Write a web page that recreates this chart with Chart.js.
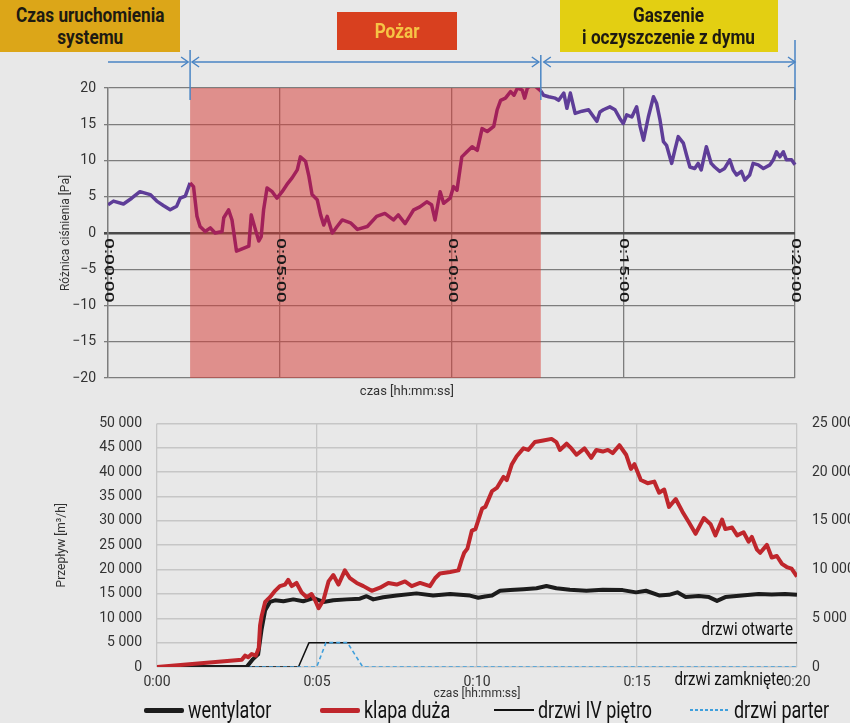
<!DOCTYPE html>
<html>
<head>
<meta charset="utf-8">
<script src="https://cdn.jsdelivr.net/npm/chart.js@4/dist/chart.umd.min.js"></script>
<style>
  body { margin: 0; background: #e8e8e8; width: 850px; height: 723px; position: relative; overflow: hidden;
         font-family: Roboto, 'Liberation Sans', sans-serif; }
  canvas { position: absolute; left: 0; }
  #top { top: 0; }
  #bottom { top: 400px; }
  .box { position: absolute; display: flex; align-items: center; justify-content: center; text-align: center;
         font-weight: bold; font-size: 20px; line-height: 22px; color: #1d1a12; z-index: 2; }
  .box span { display: inline-block; transform: scaleX(0.86); white-space: nowrap; }
  #legend { position: absolute; top: 699px; left: 0; width: 850px; height: 22px; }
  .item { position: absolute; top: 0; height: 22px; display: flex; align-items: center; font-size: 23px; color: #111; white-space: nowrap; }
  .item .txt { display: inline-block; transform: scaleX(0.78); transform-origin: left center; }
  .sw { width: 40px; margin-right: 4px; }
</style>
</head>
<body>
<div class="box" style="left:0;top:0;width:180px;height:52px;background:#dca618;"><span>Czas uruchomienia<br>systemu</span></div>
<div class="box" style="left:337px;top:12px;width:120px;height:38px;background:#d8401f;color:#f6c445;"><span>Pożar</span></div>
<div class="box" style="left:560px;top:0;width:218px;height:52px;background:#e3cf12;"><span>Gaszenie<br>i oczyszczenie z dymu</span></div>

<canvas id="top" width="850" height="400"></canvas>
<canvas id="bottom" width="850" height="323"></canvas>
<div id="legend"></div>

<script>
// Faza pożaru (minuty)
const fireStart = 2.39;
const fireEnd = 12.6;

// Różnica ciśnienia [Pa] w czasie [min]
const pressureTime = [0, 0.16, 0.45, 0.69, 0.93, 1.23, 1.42, 1.61, 1.81, 2.0, 2.1, 2.25, 2.39, 2.49, 2.59, 2.68, 2.83, 2.98,
  3.12, 3.32, 3.37, 3.51, 3.61, 3.74, 3.85, 4.1, 4.17, 4.29, 4.39, 4.46, 4.53, 4.63, 4.78, 4.92, 5.07, 5.21, 5.36, 5.51,
  5.6, 5.75, 5.85, 5.94, 6.09, 6.19, 6.28, 6.38, 6.53, 6.67, 6.82, 7.06, 7.26, 7.55, 7.82, 8.06, 8.31, 8.45, 8.65, 8.9,
  9.08, 9.28, 9.42, 9.52, 9.67, 9.77, 9.96, 10.06, 10.16, 10.3, 10.45, 10.6, 10.75, 10.89, 11.04, 11.23, 11.33, 11.43,
  11.57, 11.72, 11.82, 11.92, 12.06, 12.13, 12.21, 12.32, 12.45, 12.6, 12.68, 12.83, 13.02, 13.12, 13.27, 13.36, 13.46,
  13.6, 13.8, 13.99, 14.23, 14.32, 14.42, 14.61, 14.76, 14.9, 15.0, 15.1, 15.25, 15.39, 15.49, 15.59, 15.73, 15.88,
  15.97, 16.07, 16.17, 16.26, 16.41, 16.5, 16.6, 16.75, 16.84, 16.94, 17.08, 17.18, 17.27, 17.42, 17.56, 17.66, 17.81,
  17.95, 18.1, 18.2, 18.3, 18.44, 18.54, 18.68, 18.78, 18.93, 19.08, 19.27, 19.37, 19.46, 19.56, 19.66, 19.75, 19.9,
  20.0, 20.06];
const pressureValues = [3.9, 4.4, 4.0, 4.8, 5.7, 5.3, 4.4, 3.8, 3.2, 3.7, 4.8, 5.1, 6.9, 6.4, 2.3, 0.9, 0.2, 0.7,
  0.0, 0.2, 2.1, 3.2, 1.8, -2.5, -2.3, -1.8, 2.5, 0.5, -1.1, -0.5, 3.2, 6.2, 5.7, 4.8, 5.7, 6.7, 7.6, 8.7,
  10.5, 9.9, 7.8, 5.3, 4.6, 2.5, 1.1, 2.3, 0.0, 0.9, 1.8, 1.4, 0.5, 0.9, 2.3, 2.7, 1.8, 2.5, 1.3, 3.2,
  3.6, 4.3, 3.9, 1.8, 5.7, 4.1, 4.8, 6.4, 5.9, 10.5, 11.2, 11.9, 11.4, 14.4, 14.0, 14.7, 17.0, 18.3,
  18.6, 19.5, 19.0, 20.0, 19.7, 18.6, 20.0, 20.4, 20.2, 19.6, 19.0, 18.8, 18.6, 18.3, 19.3, 17.2, 19.3,
  16.5, 16.8, 17.0, 15.4, 16.7, 17.0, 17.4, 17.0, 15.8, 15.1, 16.3, 16.0, 17.4, 14.7, 12.8, 16.0, 18.8,
  17.9, 15.6, 12.6, 12.1, 9.6, 11.4, 13.3, 12.4, 10.8, 9.1, 8.9, 9.6, 8.7, 11.9, 9.6, 9.1, 8.5,
  8.9, 10.1, 8.7, 8.0, 8.5, 7.3, 8.0, 9.6, 9.4, 8.9, 9.4, 10.1, 11.2, 10.5, 11.2, 10.1, 10.1,
  9.4, 8.5];

// Przepływ [m3/h] – wentylator
const fanTime = [0, 2.8, 3.0, 3.16, 3.27, 3.38, 3.53, 3.69, 3.95, 4.26, 4.57, 4.89, 5.2, 5.51, 5.93, 6.34, 6.55, 6.76,
  7.07, 7.49, 8.11, 8.63, 9.16, 9.78, 10.04, 10.25, 10.47, 10.72, 11.04, 11.45, 11.86, 12.17, 12.48, 12.9, 13.42,
  13.93, 14.55, 14.97, 15.28, 15.69, 16.0, 16.26, 16.52, 16.93, 17.25, 17.5, 17.76, 18.28, 18.8, 19.21, 19.63, 20.0];
const fanFlow = [0, 0, 1620, 2590, 7780, 11670, 13360, 13690, 13490, 13880, 13490, 14140, 13360, 13690, 13880, 14010, 14530, 13880,
  14330, 14660, 15110, 14660, 14980, 14660, 14220, 14480, 14680, 15650, 15780, 15970, 16170, 16620, 16170, 15840, 15650,
  15840, 15780, 15320, 15650, 14680, 14810, 15320, 14350, 14550, 14350, 13570, 14350, 14680, 15000, 14870, 15000, 14810];

// Przepływ [m3/h] – klapa duża
const ventTime = [0, 2.65, 2.75, 2.85, 2.96, 3.09, 3.18, 3.22, 3.27, 3.38, 3.53, 3.69, 3.84, 4.0, 4.1, 4.21, 4.36, 4.52,
  4.68, 4.83, 4.94, 5.05, 5.2, 5.36, 5.51, 5.67, 5.87, 6.03, 6.24, 6.45, 6.71, 6.97, 7.23, 7.49, 7.75, 7.96, 8.22,
  8.53, 8.69, 8.84, 9.16, 9.42, 9.52, 9.6, 9.7, 9.84, 9.95, 10.16, 10.26, 10.47, 10.62, 10.83, 10.93, 11.09, 11.24,
  11.45, 11.6, 11.81, 12.07, 12.33, 12.48, 12.59, 12.8, 12.95, 13.11, 13.36, 13.57, 13.73, 13.93, 14.09, 14.24, 14.45,
  14.66, 14.81, 14.92, 15.12, 15.33, 15.54, 15.69, 15.85, 16.0, 16.21, 16.42, 16.63, 16.83, 17.09, 17.3, 17.45, 17.66,
  17.76, 17.97, 18.13, 18.33, 18.49, 18.59, 18.75, 18.85, 19.06, 19.21, 19.37, 19.53, 19.68, 19.83, 20.0];
const ventFlow = [0, 1490, 2330, 2010, 2650, 2330, 3900, 8500, 10440, 13360, 14330, 15630, 16600, 16920, 17900, 16600, 17250, 15300,
  14330, 14980, 13690, 12070, 13690, 17570, 18870, 16920, 19840, 18220, 17250, 16600, 15630, 16270, 17250, 16920, 17570, 16600, 17250,
  16600, 18220, 19190, 19510, 19840, 22000, 23440, 24300, 28000, 28310, 32530, 32860, 36100, 36750, 39030, 38380, 41620, 43250,
  44870, 44550, 46170, 46490, 46820, 46170, 44550, 45840, 44870, 43570, 44870, 42920, 44550, 44220, 44550, 43900, 45520,
  43570, 40650, 41620, 38380, 37730, 38050, 35780, 36430, 32860, 34480, 31880, 29610, 27340, 30580, 29290, 27010, 30260,
  28310, 28640, 27010, 27660, 25710, 26690, 24090, 23440, 25060, 22470, 22790, 21170, 20520, 20190, 18570];

// Stan drzwi (0 = zamknięte, 5000 = otwarte)
const door4Time = [0, 4.42, 4.75, 20];
const door4State = [0, 0, 5000, 5000];
const door0Time = [0, 4.99, 5.28, 5.95, 6.43, 20];
const door0State = [0, 0, 5000, 5000, 0, 0];

const FONT = "Roboto, 'Liberation Sans', sans-serif";
Chart.defaults.font.family = FONT;
Chart.defaults.color = '#333';

const purple = '#5e3d98';
const crimson = '#a2215a';

function pts(xs, ys) {
  return xs.map((x, i) => ({ x: x, y: ys[i] }));
}
function fmt(v) {
  return String(v).replace(/\B(?=(\d{3})+(?!\d))/g, ' ');
}

// Pasek faz + strzałki + etykiety osi czasu
const phasePlugin = {
  id: 'phases',
  beforeDatasetsDraw(chart) {
    const { ctx, chartArea: a, scales: { x } } = chart;
    const x1 = x.getPixelForValue(fireStart), x2 = x.getPixelForValue(fireEnd);
    ctx.save();
    ctx.fillStyle = 'rgba(214, 62, 56, 0.52)';
    ctx.fillRect(x1, a.top, x2 - x1, a.bottom - a.top);
    ctx.restore();
  },
  afterDatasetsDraw(chart) {
    const { ctx, chartArea: a, scales: { x, y } } = chart;
    const y0 = y.getPixelForValue(0);
    ctx.save();
    // etykiety czasu, obrócone
    ctx.fillStyle = '#1a1a1a';
    ctx.font = '500 12px ' + FONT;
    ctx.textAlign = 'left';
    ctx.textBaseline = 'middle';
    x.ticks.forEach(t => {
      ctx.save();
      ctx.translate(x.getPixelForValue(t.value), y0 + 5);
      ctx.rotate(Math.PI / 2);
      ctx.scale(1.6, 1);
      ctx.fillText('0:' + String(t.value).padStart(2, '0') + ':00', 0, 0);
      ctx.restore();
    });
    ctx.fillStyle = '#333';
    ctx.font = '13px ' + FONT;
    ctx.textAlign = 'center';
    ctx.fillText('czas [hh:mm:ss]', a.left + 0.435 * (a.right - a.left), a.bottom + 14);

    // strzałki faz
    const xs = x.getPixelForValue(0), x1 = x.getPixelForValue(fireStart),
          x2 = x.getPixelForValue(fireEnd), x3 = x.getPixelForValue(20);
    const ya = 62;
    ctx.strokeStyle = '#4a85c4';
    ctx.lineWidth = 1.5;
    const head = (px, dir) => {
      ctx.beginPath();
      ctx.moveTo(px - dir * 7, ya - 5);
      ctx.lineTo(px, ya);
      ctx.lineTo(px - dir * 7, ya + 5);
      ctx.stroke();
    };
    const seg = (p, q) => { ctx.beginPath(); ctx.moveTo(p, ya); ctx.lineTo(q, ya); ctx.stroke(); };
    seg(xs, x1 - 2); head(x1 - 2, 1);
    seg(x1 + 2, x2 - 2); head(x1 + 2, -1); head(x2 - 2, 1);
    seg(x2 + 3, x3); head(x2 + 3, -1); head(x3, 1);
    [[x1, 50], [x2, 55], [x3, 40]].forEach(([px, top]) => {
      ctx.beginPath(); ctx.moveTo(px, top); ctx.lineTo(px, 100); ctx.stroke();
    });
    ctx.restore();
  }
};

new Chart(document.getElementById('top'), {
  type: 'line',
  data: {
    datasets: [{
      label: 'Różnica ciśnienia',
      data: pts(pressureTime, pressureValues),
      borderColor: purple,
      borderWidth: 3.5,
      pointRadius: 0,
      tension: 0,
      borderJoinStyle: 'round',
      clip: { left: 0, top: 0, right: 6, bottom: 0 },
      segment: {
        borderColor: c => (c.p0.parsed.x >= fireStart && c.p0.parsed.x < fireEnd) ? crimson : purple
      }
    }]
  },
  options: {
    responsive: false,
    animation: false,
    layout: { padding: { top: 88, left: 52, right: 55, bottom: 0 } },
    plugins: { legend: { display: false }, tooltip: { enabled: false } },
    scales: {
      x: {
        type: 'linear', min: 0, max: 20,
        ticks: { display: false, stepSize: 5 },
        grid: { color: '#7d7d7d', lineWidth: 1.3, drawTicks: false },
        border: { display: false },
        afterFit: s => { s.height = 22; }
      },
      y: {
        min: -20, max: 20,
        ticks: { stepSize: 5, padding: 8, font: { size: 14 }, color: '#333',
                 callback: v => v < 0 ? '\u2212' + Math.abs(v) : v },
        grid: { color: c => c.tick.value === 0 ? '#4a4a4a' : '#7d7d7d',
                lineWidth: c => c.tick.value === 0 ? 2.6 : 1.3, tickLength: 4 },
        border: { color: '#7d7d7d', width: 1.3 },
        title: { display: true, text: 'Różnica ciśnienia [Pa]', font: { size: 12 }, color: '#333', padding: { top: 7, bottom: 0 } },
        afterFit: s => { s.width = 56; }
      }
    }
  },
  plugins: [phasePlugin]
});

// Podpisy stanów drzwi
const doorPlugin = {
  id: 'doorLabels',
  afterDatasetsDraw(chart) {
    const { ctx, chartArea: a, scales: { y } } = chart;
    const label = (text, px, py) => {
      ctx.save();
      ctx.translate(px, py);
      ctx.scale(0.84, 1);
      ctx.fillText(text, 0, 0);
      ctx.restore();
    };
    ctx.save();
    ctx.fillStyle = '#111';
    ctx.font = '18px ' + FONT;
    ctx.textAlign = 'right';
    ctx.textBaseline = 'middle';
    label('drzwi otwarte', a.right - 4, y.getPixelForValue(5000) - 12);
    label('drzwi zamknięte', a.right - 13, a.bottom + 13);
    ctx.restore();
  }
};

const flowChart = new Chart(document.getElementById('bottom'), {
  type: 'line',
  data: {
    datasets: [
      { label: 'wentylator', data: pts(fanTime, fanFlow), borderColor: '#1c1c1c', borderWidth: 4, order: 1 },
      { label: 'klapa duża', data: pts(ventTime, ventFlow), borderColor: '#bf262c', borderWidth: 4, order: 0 },
      { label: 'drzwi IV piętro', data: pts(door4Time, door4State), borderColor: '#111', borderWidth: 1.5, order: 3 },
      { label: 'drzwi parter', data: pts(door0Time, door0State), borderColor: '#3f9fdc', borderWidth: 1.6, borderDash: [4, 3], order: 2 }
    ]
  },
  options: {
    responsive: false,
    animation: false,
    elements: { point: { radius: 0 }, line: { tension: 0, borderJoinStyle: 'round' } },
    layout: { padding: { top: 10, left: 51, right: 0, bottom: 20 } },
    plugins: { legend: { display: false }, tooltip: { enabled: false } },
    scales: {
      x: {
        type: 'linear', min: 0, max: 20,
        ticks: { stepSize: 5, padding: 7, maxRotation: 0, font: { size: 14 }, color: '#333',
                 callback: v => '0:' + String(v).padStart(2, '0') },
        grid: { color: '#c6c6c6', lineWidth: 1.3, drawTicks: false },
        border: { display: false },
        title: { display: true, text: 'czas [hh:mm:ss]', font: { size: 12 }, color: '#333', padding: { top: 0, bottom: 2 } },
        afterFit: s => { s.height = 36; }
      },
      y: {
        min: 0, max: 50000,
        ticks: { stepSize: 5000, padding: 15, font: { size: 14 }, color: '#333', callback: fmt },
        grid: { color: '#c6c6c6', lineWidth: 1.5, drawTicks: false },
        border: { display: false },
        title: { display: true, text: 'Przepływ [m³/h]', font: { size: 12 }, color: '#333', padding: { top: 4, bottom: 0 } },
        afterFit: s => { s.width = 106; }
      },
      y2: {
        position: 'right', min: 0, max: 25000,
        ticks: { stepSize: 5000, padding: 15, font: { size: 14 }, color: '#333', callback: fmt },
        grid: { display: false, drawTicks: false },
        border: { display: false },
        afterFit: s => { s.width = 53; }
      }
    }
  },
  plugins: [doorPlugin]
});

// Legenda pod wykresem
const legendLeft = [144, 320, 494, 690];
const legend = document.getElementById('legend');
flowChart.data.datasets.forEach((ds, i) => {
  const item = document.createElement('div');
  item.className = 'item';
  item.style.left = legendLeft[i] + 'px';
  const sw = document.createElement('span');
  sw.className = 'sw';
  const h = Math.max(2, ds.borderWidth + 1);
  sw.style.height = h + 'px';
  sw.style.borderRadius = h > 3 ? '2px' : '0';
  sw.style.background = ds.borderDash
    ? 'repeating-linear-gradient(90deg,' + ds.borderColor + ' 0 3px, transparent 3px 5px)'
    : ds.borderColor;
  const txt = document.createElement('span');
  txt.className = 'txt';
  txt.textContent = ds.label;
  item.appendChild(sw);
  item.appendChild(txt);
  legend.appendChild(item);
});
</script>
</body>
</html>
